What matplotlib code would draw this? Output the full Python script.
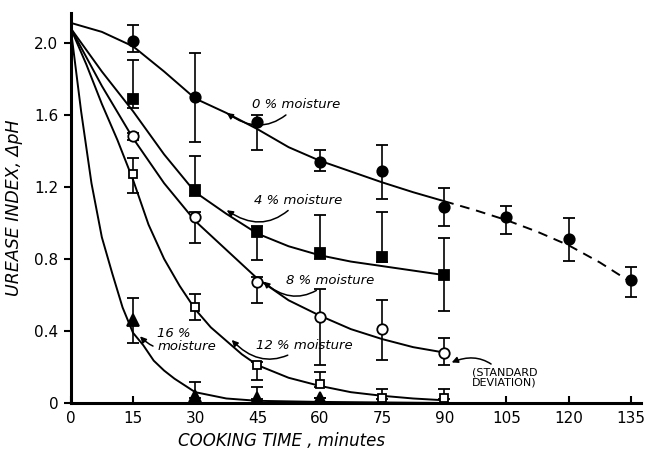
import matplotlib
matplotlib.use("Agg")
import matplotlib.pyplot as plt

# ---- measured points (minutes, urease index) ----
t0 = [15, 30, 45, 60, 75, 90, 105, 120, 135]
m0 = [2.01, 1.70, 1.56, 1.34, 1.285, 1.09, 1.03, 0.91, 0.68]
m0_hi = [2.10, 1.945, 1.60, 1.405, 1.43, 1.195, 1.095, 1.025, 0.755]
m0_lo = [1.95, 1.45, 1.405, 1.285, 1.13, 0.98, 0.94, 0.79, 0.59]

t4 = [15, 30, 45, 60, 75, 90]
m4 = [1.69, 1.18, 0.95, 0.83, 0.81, 0.71]
m4_hi = [1.905, 1.37, 0.98, 1.045, 1.06, 0.915]
m4_lo = [1.64, 1.15, 0.795, 0.80, 0.78, 0.51]

t8 = [15, 30, 45, 60, 75, 90]
m8 = [1.48, 1.03, 0.67, 0.48, 0.41, 0.28]
m8_hi = [1.50, 1.06, 0.70, 0.63, 0.57, 0.36]
m8_lo = [1.46, 0.89, 0.555, 0.21, 0.24, 0.21]

t12 = [15, 30, 45, 60, 75, 90]
m12 = [1.27, 0.535, 0.21, 0.105, 0.03, 0.03]
m12_hi = [1.36, 0.605, 0.23, 0.174, 0.075, 0.075]
m12_lo = [1.165, 0.46, 0.125, 0.09, 0.02, 0.02]

t16 = [15, 30, 45, 60]
m16 = [0.46, 0.04, 0.03, 0.03]
m16_hi = [0.585, 0.115, 0.09, 0.03]
m16_lo = [0.335, 0.03, 0.02, 0.03]

# ---- fitted curves ----
ct = [0, 7.5, 15, 22.5, 30, 37.5, 45, 52.5, 60, 67.5, 75, 82.5, 90]
c0 = [2.11, 2.06, 1.98, 1.84, 1.69, 1.61, 1.52, 1.42, 1.345, 1.285, 1.225, 1.17, 1.12]
c4 = [2.08, 1.84, 1.62, 1.38, 1.17, 1.05, 0.94, 0.87, 0.82, 0.785, 0.76, 0.735, 0.71]
c8 = [2.08, 1.76, 1.47, 1.22, 1.01, 0.85, 0.69, 0.57, 0.485, 0.41, 0.355, 0.31, 0.28]
c12_t = [0, 3.75, 7.5, 11.25, 15, 18.75, 22.5, 26.25, 30, 33.75, 37.5, 41.25, 45,
         52.5, 60, 67.5, 75, 82.5, 90]
c12 = [2.08, 1.88, 1.66, 1.46, 1.24, 0.99, 0.80, 0.65, 0.52, 0.42, 0.345, 0.27, 0.21,
       0.14, 0.095, 0.06, 0.04, 0.025, 0.015]
d0_t = [90, 97.5, 105, 112.5, 120, 127.5, 135]
d0 = [1.12, 1.07, 1.015, 0.95, 0.875, 0.78, 0.67]
c16_t = [0, 2.5, 5, 7.5, 10, 12.5, 15, 17.5, 20, 22.5, 25, 30, 37.5, 45, 60, 75, 90]
c16 = [2.08, 1.62, 1.22, 0.92, 0.72, 0.53, 0.39, 0.32, 0.235, 0.18, 0.135, 0.06, 0.025, 0.012, 0.006, 0.003, 0.0]

xticks = [0, 15, 30, 45, 60, 75, 90, 105, 120, 135]
yticks = [0, 0.4, 0.8, 1.2, 1.6, 2.0]
ytick_labels = ["0", "0.4", "0.8", "1.2", "1.6", "2.0"]

fig = plt.figure(figsize=(6.47, 4.53), dpi=100)
ax = fig.add_axes([0.1093, 0.1104, 0.882, 0.861])
ax.set_xlim(0, 137.5)
ax.set_ylim(0, 2.165)

lw = 1.4
for y in (c0, c4, c8):
    ax.plot(ct, y, color="black", lw=lw, zorder=2)
ax.plot(c12_t, c12, color="black", lw=lw, zorder=2)
ax.plot(c16_t, c16, color="black", lw=lw, zorder=2)
ax.plot(d0_t, d0, color="black", lw=lw, ls=(0, (5, 3.5)), zorder=2)

def eb(t, m, hi, lo, marker, ms, mfc):
    yerr = [[v - l for v, l in zip(m, lo)], [h - v for v, h in zip(m, hi)]]
    ax.errorbar(t, m, yerr=yerr, fmt=marker, ms=ms, mfc=mfc, mec="black",
                mew=1.3, ecolor="black", elinewidth=1.2, capsize=4.5,
                capthick=1.2, zorder=3)

eb(t0, m0, m0_hi, m0_lo, "o", 7.5, "black")
eb(t4, m4, m4_hi, m4_lo, "s", 7, "black")
eb(t8, m8, m8_hi, m8_lo, "o", 7.5, "white")
eb(t12, m12, m12_hi, m12_lo, "s", 5.5, "white")
eb(t16, m16, m16_hi, m16_lo, "^", 8, "black")

# annotations
afont = dict(fontsize=9.5, style="italic", color="black")
arrow = dict(arrowstyle="-|>", color="black", lw=1.1, mutation_scale=9,
             connectionstyle="arc3,rad=-0.45", shrinkA=1, shrinkB=0)
ax.annotate("0 % moisture", xy=(37.6, 1.61), xytext=(43.8, 1.655),
            ha="left", va="center", arrowprops=arrow, **afont)
ax.annotate("4 % moisture", xy=(37.6, 1.07), xytext=(44.2, 1.125),
            ha="left", va="center", arrowprops=arrow, **afont)
ax.annotate("8 % moisture", xy=(46.4, 0.674), xytext=(51.8, 0.68),
            ha="left", va="center", arrowprops=arrow, **afont)
ax.annotate("12 % moisture", xy=(38.8, 0.35), xytext=(44.6, 0.32),
            ha="left", va="center", arrowprops=arrow, **afont)
ax.annotate("16 %\nmoisture", xy=(16.7, 0.37), xytext=(20.8, 0.35),
            ha="left", va="center", linespacing=1.0, arrowprops=arrow, **afont)
ax.annotate("(STANDARD\nDEVIATION)", xy=(91.8, 0.225), xytext=(96.7, 0.14),
            ha="left", va="center", fontsize=8, linespacing=1.05,
            arrowprops=dict(arrow, connectionstyle="arc3,rad=0.4"))

for s in ("top", "right"):
    ax.spines[s].set_visible(False)
for s in ("left", "bottom"):
    ax.spines[s].set_linewidth(2.2)

ax.set_xticks(xticks)
ax.set_xticklabels([str(v) for v in xticks], fontsize=11)
ax.set_yticks(yticks)
ax.set_yticklabels(ytick_labels, fontsize=11)
ax.tick_params(axis="x", direction="in", length=5, width=1.5, pad=6)
ax.tick_params(axis="y", direction="out", length=5, width=1.5, pad=4)

ax.set_xlabel("COOKING TIME , minutes", fontsize=12, style="italic")
ax.xaxis.set_label_coords(0.37, -0.075)
ax.set_ylabel("UREASE INDEX, \u0394pH", fontsize=12.5, style="italic", labelpad=8)

fig.savefig("out.png", dpi=100)
